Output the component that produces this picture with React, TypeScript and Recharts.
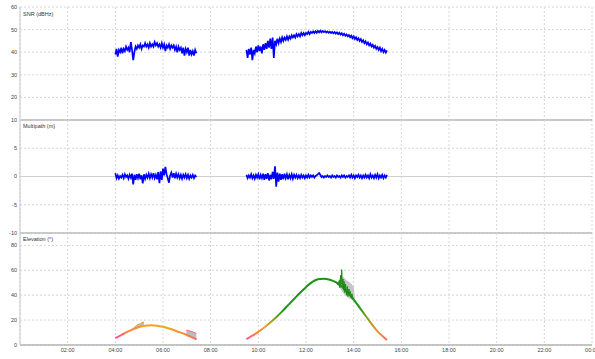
import React from 'react';
import { ComposedChart, Line, Area, XAxis, YAxis, CartesianGrid, ReferenceLine } from 'recharts';

// ---- time axis ----
const X_TICKS = [2, 4, 6, 8, 10, 12, 14, 16, 18, 20, 22, 24];
const SNR_TICKS = [10, 20, 30, 40, 50, 60];
const MP_TICKS = [-10, -5, 0, 5, 10];
const EL_TICKS = [0, 20, 40, 60, 80];

// ---- sampling of the SNR / multipath passes ----
const PASS1_START = 4.0;
const PASS2_START = 9.5;
const SAMPLE_STEP = 0.05;

// SNR (dBHz)
const snrPass1 = [
  39.0, 41.5, 38.0, 41.0, 40.0, 42.0, 39.5, 41.5, 40.5, 42.5, 41.0, 42.0, 40.0, 44.5, 41.0, 36.5,
  40.0, 42.5, 41.5, 43.0, 42.0, 43.5, 41.5, 43.0, 42.5, 44.0, 42.5, 43.5, 42.0, 44.0, 42.5, 43.5,
  42.5, 44.5, 43.0, 44.0, 42.5, 43.5, 42.0, 44.0, 42.0, 43.5, 40.5, 43.0, 42.0, 43.5, 41.5, 43.0,
  42.0, 43.0, 41.0, 42.5, 40.0, 42.5, 41.0, 42.0, 39.5, 42.0, 38.5, 41.5, 40.0, 42.0, 38.5, 41.0,
  39.0, 40.5, 38.5, 41.0, 39.5,
];
const snrPass2 = [
  41.0, 37.5, 41.5, 39.0, 42.0, 36.5, 41.0, 39.5, 42.5, 40.0, 43.0, 40.5, 42.5, 39.5, 43.5, 41.0,
  44.0, 41.5, 45.0, 42.0, 46.0, 41.5, 46.5, 37.5, 45.0, 43.5, 46.0, 44.0, 46.0, 44.5, 46.5, 45.0,
  46.5, 45.5, 47.0, 45.5, 47.0, 46.0, 47.5, 46.5, 47.5, 46.5, 48.0, 47.0, 48.0, 47.0, 48.5, 47.5,
  48.5, 47.5, 48.5, 48.0, 49.0, 48.0, 49.0, 48.5, 49.2, 48.5, 49.3, 48.6, 49.4, 48.8, 49.5, 48.8,
  49.4, 48.9, 49.3, 48.7, 49.2, 48.6, 49.1, 48.5, 49.0, 48.4, 48.9, 48.2, 48.8, 48.0, 48.6, 47.8,
  48.4, 47.5, 48.2, 47.3, 47.9, 47.0, 47.6, 46.6, 47.3, 46.2, 47.0, 45.8, 46.6, 45.4, 46.2, 45.0,
  45.8, 44.5, 45.3, 44.0, 44.8, 43.5, 44.3, 43.0, 43.8, 42.5, 43.3, 42.0, 42.8, 41.5, 42.3, 41.0,
  42.0, 40.5, 41.5, 40.0, 41.0, 39.8, 40.8,
];

// Multipath (m)
const mpPass1 = [
  0.6, -0.3, 0.2, -0.4, 0.1, -0.2, 0.3, -0.3, 0.4, -0.1, 0.2, -0.4, 0.3, -0.2, 0.5, -1.4,
  0.3, -0.6, 0.4, -0.3, 0.5, -0.5, 0.2, -1.2, 0.4, -0.4, 0.3, -0.2, 0.5, -0.3, 0.4, -0.2,
  0.6, -0.3, 0.3, -0.5, 0.8, -1.2, 0.9, -0.6, 1.4, 0.2, 1.7, 0.4, -0.3, -1.1, 0.2, 0.7,
  -0.2, 0.6, -0.3, 0.5, -0.2, 0.4, -0.3, 0.3, -0.4, 0.3, -0.2, 0.4, -0.3, 0.3, -0.4, 0.2,
  -0.2, 0.3, -0.3, 0.2, -0.1,
];
const mpPass2 = [
  0.3, -0.3, 0.2, -0.2, 0.4, -0.3, 0.2, -0.4, 0.3, -0.2, 0.4, -0.5, 0.3, -0.3, 0.5, -0.6,
  0.4, -0.4, 0.6, -0.7, 0.3, -0.5, 0.8, -0.4, 1.8, -1.8, 0.7, -0.9, 0.5, -0.6, 0.4, -0.5,
  0.5, -0.3, 0.4, -0.5, 0.3, -0.3, 0.4, -0.4, 0.3, -0.2, 0.3, -0.3, 0.2, -0.3, 0.3, -0.2,
  0.2, -0.3, 0.2, -0.2, 0.3, -0.2, 0.2, -0.1, 0.2, -0.2, 0.1, 0.2, 0.4, 0.6, 0.3, -0.1,
  0.1, -0.2, 0.1, -0.1, 0.2, -0.1, 0.1, -0.2, 0.2, -0.1, 0.1, -0.2, 0.2, -0.1, 0.1, -0.2,
  0.2, -0.1, 0.2, -0.2, 0.1, -0.1, 0.2, -0.2, 0.3, -0.2, 0.2, -0.3, 0.2, -0.1, 0.3, -0.2,
  0.2, -0.3, 0.2, -0.2, 0.3, -0.2, 0.2, -0.3, 0.4, -0.2, 0.2, -0.3, 0.3, -0.2, 0.4, -0.3,
  0.2, -0.2, 0.3, -0.3, 0.2, -0.2, 0.3,
];

// Elevation (°)
const elPass1Times = [4.0, 4.25, 4.5, 4.75, 5.0, 5.25, 5.5, 5.75, 6.0, 6.25, 6.5, 6.75, 7.0, 7.25, 7.4];
const elPass1Values = [5.5, 8.0, 10.5, 12.8, 14.5, 15.5, 15.8, 15.5, 14.6, 13.3, 11.7, 9.9, 8.0, 5.9, 4.6];
const elPass2Times = [
  9.5, 9.75, 10.0, 10.25, 10.5, 10.75, 11.0, 11.25, 11.5, 11.75, 12.0, 12.25, 12.5,
  12.75, 13.0, 13.25, 13.5, 13.75, 14.0, 14.25, 14.5, 14.75, 15.0, 15.25, 15.4,
];
const elPass2Values = [
  4.8, 7.5, 10.5, 14.0, 18.0, 22.3, 27.0, 32.0, 37.0, 42.0, 46.5, 50.5, 52.8,
  53.3, 52.5, 50.5, 47.0, 42.0, 36.5, 30.0, 23.5, 17.0, 11.0, 6.5, 4.0,
];
const elJitterTimes = [
  13.3, 13.35, 13.4, 13.42, 13.45, 13.47, 13.5, 13.52, 13.55, 13.58, 13.6, 13.63,
  13.66, 13.7, 13.73, 13.76, 13.8, 13.83, 13.86, 13.9, 13.93, 13.96, 14.0,
];
const elJitterValues = [
  50.5, 48.0, 52.0, 46.0, 56.0, 49.0, 60.5, 47.0, 53.0, 44.0, 51.0, 42.0,
  49.0, 40.0, 47.0, 39.0, 45.0, 41.0, 43.0, 38.0, 41.0, 37.0, 38.0,
];
// shaded spread bands
const band1Times = [4.72, 4.9, 5.05, 5.2];
const band1Low = [12.6, 14.0, 14.8, 15.3];
const band1High = [12.8, 15.8, 17.3, 18.6];
const band2Times = [6.98, 7.2, 7.4];
const band2Low = [8.0, 6.1, 4.6];
const band2High = [12.0, 10.8, 9.3];
const band3Times = [13.35, 13.45, 13.55, 13.7, 13.85, 14.0, 14.05];
const band3Low = [49, 45, 42, 39, 37, 36, 36.5];
const band3High = [51, 54, 55, 52, 50, 47, 38];

const sampled = (start: number, values: number[]) =>
  values.map((v, i) => ({ t: +(start + i * SAMPLE_STEP).toFixed(3), v }));
const paired = (times: number[], values: number[]) => times.map((t, i) => ({ t, v: values[i] }));
const banded = (times: number[], lo: number[], hi: number[]) =>
  times.map((t, i) => ({ t, r: [lo[i], hi[i]] }));

const snr1 = sampled(PASS1_START, snrPass1);
const snr2 = sampled(PASS2_START, snrPass2);
const mp1 = sampled(PASS1_START, mpPass1);
const mp2 = sampled(PASS2_START, mpPass2);
const el1 = paired(elPass1Times, elPass1Values);
const el2 = paired(elPass2Times, elPass2Values);
const elJ = paired(elJitterTimes, elJitterValues);
const b1 = banded(band1Times, band1Low, band1High);
const b2 = banded(band2Times, band2Low, band2High);
const b3 = banded(band3Times, band3Low, band3High);

const FONT = 'Liberation Sans, Arial, sans-serif';
const tickStyle = { fontSize: 5.5, fill: '#444', fontFamily: FONT };
const fmtTime = (h: number) => `${String(h % 24).padStart(2, '0')}:00`;
const GRID = '#d6d6d6';
const SEP = '#b4b4b4';
const BLUE_W = 1.7;

const xAxisHidden = (
  <XAxis type="number" dataKey="t" domain={[0, 24]} ticks={X_TICKS} hide allowDuplicatedCategory={false} />
);

const yAxisProps = {
  type: 'number' as const,
  width: 20,
  tickLine: false,
  tickSize: 0,
  tickMargin: 3,
  interval: 0 as const,
  axisLine: { stroke: '#c8c8c8' },
  tick: tickStyle,
};

const titleStyle: React.CSSProperties = {
  position: 'absolute',
  left: 23,
  fontSize: 5.5,
  lineHeight: 1,
  fontFamily: FONT,
  color: '#333',
  whiteSpace: 'nowrap',
};

export default function App() {
  return (
    <div style={{ position: 'absolute', left: 0, top: 0, width: 595, height: 359, background: '#fff', overflow: 'hidden' }}>
      {/* SNR panel */}
      <div style={{ position: 'absolute', left: 0, top: 0 }}>
        <ComposedChart width={595} height={130} margin={{ top: 7, right: 3, bottom: 10, left: 0 }}>
          <CartesianGrid stroke={GRID} strokeDasharray="2 2" />
          {xAxisHidden}
          <YAxis {...yAxisProps} domain={[10, 60]} ticks={SNR_TICKS} tickFormatter={(v: number) => (v === 10 ? '' : String(v))} />
          <ReferenceLine y={10} stroke={SEP} strokeWidth={1.5} />
          <Line data={snr1} dataKey="v" stroke="#0000ff" strokeWidth={BLUE_W} dot={false} isAnimationActive={false} />
          <Line data={snr2} dataKey="v" stroke="#0000ff" strokeWidth={BLUE_W} dot={false} isAnimationActive={false} />
        </ComposedChart>
      </div>
      {/* Multipath panel */}
      <div style={{ position: 'absolute', left: 0, top: 110 }}>
        <ComposedChart width={595} height={133} margin={{ top: 10, right: 3, bottom: 10, left: 0 }}>
          <CartesianGrid stroke={GRID} strokeDasharray="2 2" />
          {xAxisHidden}
          <YAxis {...yAxisProps} domain={[-10, 10]} ticks={MP_TICKS} />
          <ReferenceLine y={0} stroke="#cfcfcf" strokeWidth={1} />
          <ReferenceLine y={-10} stroke={SEP} strokeWidth={1.5} />
          <Line data={mp1} dataKey="v" stroke="#0000ff" strokeWidth={BLUE_W} dot={false} isAnimationActive={false} />
          <Line data={mp2} dataKey="v" stroke="#0000ff" strokeWidth={BLUE_W} dot={false} isAnimationActive={false} />
        </ComposedChart>
      </div>
      {/* Elevation panel */}
      <div style={{ position: 'absolute', left: 0, top: 223 }}>
        <ComposedChart width={595} height={136} margin={{ top: 10, right: 3, bottom: 0, left: 0 }}>
          <defs>
            <linearGradient id="elGrad1" x1="0" y1="0" x2="1" y2="0">
              <stop offset="0%" stopColor="#ff4fa8" />
              <stop offset="12%" stopColor="#ff7a45" />
              <stop offset="35%" stopColor="#f2a224" />
              <stop offset="70%" stopColor="#f4a024" />
              <stop offset="90%" stopColor="#ff8040" />
              <stop offset="100%" stopColor="#ff6a70" />
            </linearGradient>
            <linearGradient id="elGrad2" x1="0" y1="0" x2="1" y2="0">
              <stop offset="0%" stopColor="#ff50b0" />
              <stop offset="6%" stopColor="#ff8040" />
              <stop offset="13%" stopColor="#f0a030" />
              <stop offset="19%" stopColor="#9aa020" />
              <stop offset="26%" stopColor="#1a9412" />
              <stop offset="80%" stopColor="#1a9412" />
              <stop offset="87%" stopColor="#9aa020" />
              <stop offset="93%" stopColor="#f09030" />
              <stop offset="100%" stopColor="#ff6a60" />
            </linearGradient>
          </defs>
          <CartesianGrid stroke={GRID} strokeDasharray="2 2" />
          <XAxis
            type="number"
            dataKey="t"
            domain={[0, 24]}
            ticks={X_TICKS}
            interval={0}
            height={14}
            tickLine={false}
            tickSize={0}
            tickMargin={3}
            tickFormatter={fmtTime}
            axisLine={{ stroke: SEP, strokeWidth: 1.5 }}
            tick={tickStyle}
            allowDuplicatedCategory={false}
          />
          <YAxis {...yAxisProps} domain={[0, 90]} ticks={EL_TICKS} />
          <Area data={b1} dataKey="r" stroke="#f0a020" strokeWidth={1} fill="#bdbdbd" fillOpacity={1} isAnimationActive={false} />
          <Area data={b2} dataKey="r" stroke="#ff5a8a" strokeWidth={1} fill="#bdbdbd" fillOpacity={1} isAnimationActive={false} />
          <Area data={b3} dataKey="r" stroke="none" fill="#c4c4c4" fillOpacity={1} isAnimationActive={false} />
          <Line data={el1} dataKey="v" type="monotone" stroke="url(#elGrad1)" strokeWidth={2} dot={false} isAnimationActive={false} />
          <Line data={el2} dataKey="v" type="monotone" stroke="url(#elGrad2)" strokeWidth={2} dot={false} isAnimationActive={false} />
          <Line data={elJ} dataKey="v" stroke="#1a8a12" strokeWidth={1} dot={false} isAnimationActive={false} />
        </ComposedChart>
      </div>
      <div style={{ ...titleStyle, top: 12 }}>SNR (dBHz)</div>
      <div style={{ ...titleStyle, top: 123.5 }}>Multipath (m)</div>
      <div style={{ ...titleStyle, top: 237 }}>Elevation (°)</div>
    </div>
  );
}
